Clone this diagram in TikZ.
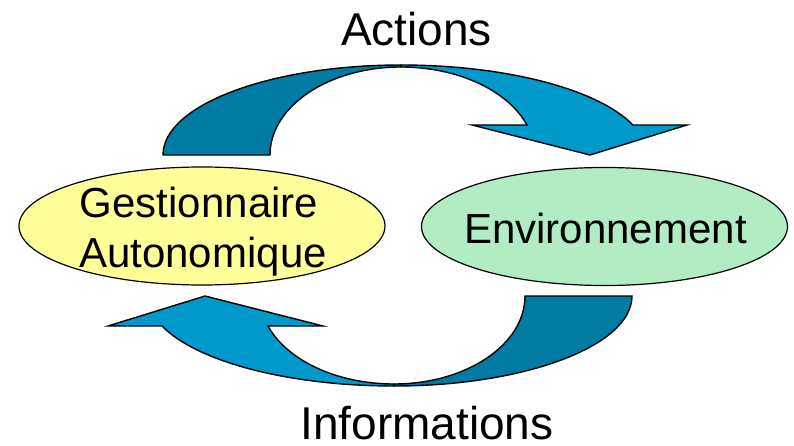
\documentclass[tikz,border=0pt]{standalone}
\usepackage{fontspec}
\setmainfont{Liberation Sans}
\usetikzlibrary{shapes.geometric}
\definecolor{bandDark}{RGB}{0,123,163}
\definecolor{bandLight}{RGB}{0,153,204}
\definecolor{gaYellow}{RGB}{255,255,153}
\definecolor{envGreen}{RGB}{178,236,197}
\begin{document}
\begin{tikzpicture}[x=1pt,y=1pt,
  band/.style={draw=black,line width=1.4pt,line join=miter},
  blob/.style={ellipse,draw=black,line width=1.2pt,inner sep=0pt,minimum width=366pt,minimum height=118pt},
  bigtext/.style={font=\fontsize{46}{50}\selectfont,inner sep=0pt,anchor=base},
  boxtext/.style={font=\fontsize{42}{50}\selectfont,inner sep=0pt,anchor=base}]
\useasboundingbox (0,0) rectangle (794,445);
\fill[white] (0,0) rectangle (794,445);

% curved arrow (top) and its 180-degree copy (bottom)
\foreach \ang in {0,180}{
\begin{scope}[rotate around={\ang:(397.5,219.5)}]
  \path[band,fill=bandDark] (163,290)
     arc[start angle=180,end angle=90,x radius=238,y radius=90]
     -- (401,378)
     arc[start angle=90,end angle=180,x radius=131,y radius=88]
     -- cycle;
  \path[band,fill=bandLight] (401,380)
     arc[start angle=90,end angle=19.47,x radius=246,y radius=90]
     -- (687,320) -- (590,290) -- (472,320) -- (527,320)
     arc[start angle=19.93,end angle=90,x radius=134,y radius=88]
     -- cycle;
\end{scope}
}

\node[blob,fill=gaYellow] (ga) at (202,219) {};
\node[blob,fill=envGreen] (env) at (604.5,218.5) {};

\node[boxtext] (ga1) at (199,228) {Gestionnaire};
\node[boxtext] (ga2) at (203,178) {Autonomique};
\node[boxtext] (envt) at (605.5,202) {Environnement};

\node[bigtext] (act) at (416.5,399) {Actions};
\node[bigtext] (inf) at (427,6) {Informations};
\end{tikzpicture}
\end{document}
